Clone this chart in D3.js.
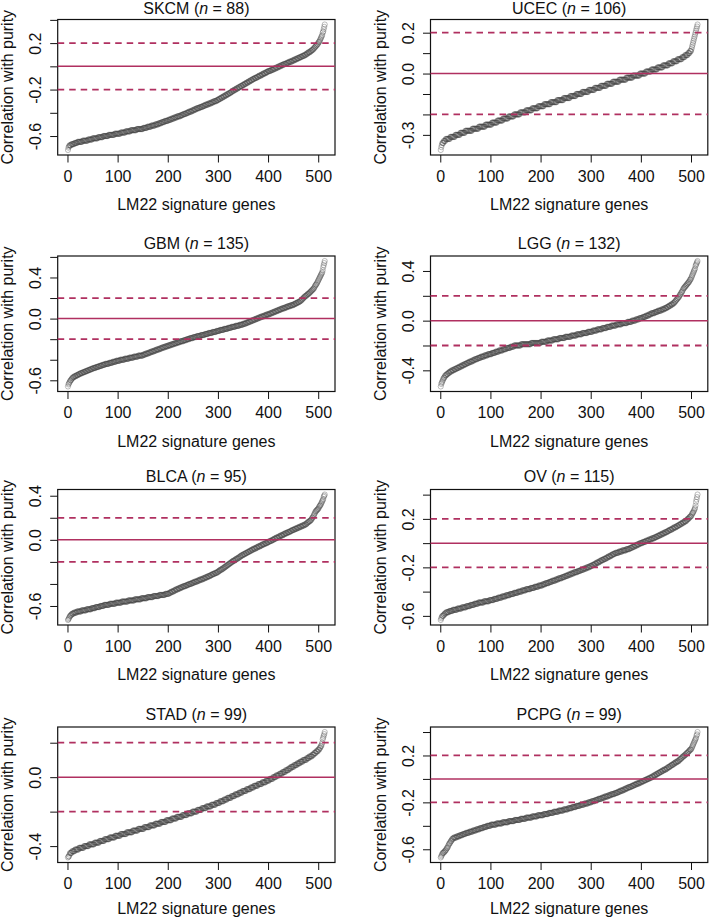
<!DOCTYPE html>
<html>
<head>
<meta charset="utf-8">
<script src="https://cdn.jsdelivr.net/npm/d3@7/dist/d3.min.js"></script>
<style>
html,body{margin:0;padding:0;background:#fff;}
svg{display:block;}
</style>
</head>
<body>
<svg id="chart" width="709" height="920"></svg>
<script>
const cancerTypes = ["SKCM","UCEC","GBM","LGG","BLCA","OV","STAD","PCPG"];
const sampleSizes = [88,106,135,132,95,115,99,99];
const xTickValues = [0,100,200,300,400,500];
const yTickValues = [
  [-0.6,-0.4,-0.2,0,0.2,0.4],
  [-0.3,-0.2,-0.1,0,0.1,0.2],
  [-0.6,-0.4,-0.2,0,0.2,0.4,0.6],
  [-0.4,-0.2,0,0.2,0.4],
  [-0.6,-0.4,-0.2,0,0.2,0.4],
  [-0.6,-0.4,-0.2,0,0.2,0.4],
  [-0.4,-0.2,0,0.2],
  [-0.6,-0.4,-0.2,0,0.2,0.4]
];
const yTickLabelValues = [
  [-0.6,-0.2,0.2],
  [-0.3,0,0.2],
  [-0.6,0,0.4],
  [-0.4,0,0.4],
  [-0.6,0,0.4],
  [-0.6,-0.2,0.2],
  [-0.4,0],
  [-0.6,-0.2,0.2]
];
const thresholdLines = [-0.2, 0.2];
const zeroLine = [0];

const skcmCorr = [
-0.72,-0.70,-0.69,-0.68,-0.68,-0.68,-0.68,-0.67,-0.67,-0.67,
-0.67,-0.67,-0.67,-0.66,-0.66,-0.66,-0.66,-0.66,-0.66,-0.65,
-0.65,-0.65,-0.65,-0.65,-0.65,-0.65,-0.65,-0.65,-0.65,-0.64,
-0.64,-0.64,-0.64,-0.64,-0.64,-0.64,-0.64,-0.64,-0.64,-0.64,
-0.63,-0.63,-0.63,-0.63,-0.63,-0.63,-0.63,-0.63,-0.63,-0.62,
-0.62,-0.62,-0.62,-0.62,-0.62,-0.62,-0.62,-0.62,-0.62,-0.62,
-0.61,-0.61,-0.61,-0.61,-0.61,-0.61,-0.61,-0.61,-0.61,-0.61,
-0.60,-0.60,-0.60,-0.60,-0.60,-0.60,-0.60,-0.60,-0.60,-0.60,
-0.60,-0.59,-0.59,-0.59,-0.59,-0.59,-0.59,-0.59,-0.59,-0.59,
-0.59,-0.59,-0.59,-0.58,-0.58,-0.58,-0.58,-0.58,-0.58,-0.58,
-0.58,-0.58,-0.58,-0.58,-0.58,-0.57,-0.57,-0.57,-0.57,-0.57,
-0.57,-0.57,-0.57,-0.57,-0.57,-0.56,-0.56,-0.56,-0.56,-0.56,
-0.56,-0.56,-0.56,-0.56,-0.56,-0.55,-0.55,-0.55,-0.55,-0.55,
-0.55,-0.55,-0.55,-0.55,-0.55,-0.55,-0.55,-0.54,-0.54,-0.54,
-0.54,-0.54,-0.54,-0.54,-0.54,-0.54,-0.54,-0.54,-0.54,-0.54,
-0.53,-0.53,-0.53,-0.53,-0.53,-0.53,-0.53,-0.53,-0.52,-0.52,
-0.52,-0.52,-0.52,-0.52,-0.52,-0.52,-0.51,-0.51,-0.51,-0.51,
-0.51,-0.51,-0.51,-0.51,-0.50,-0.50,-0.50,-0.50,-0.50,-0.50,
-0.50,-0.49,-0.49,-0.49,-0.49,-0.49,-0.49,-0.48,-0.48,-0.48,
-0.48,-0.48,-0.48,-0.47,-0.47,-0.47,-0.47,-0.47,-0.47,-0.47,
-0.46,-0.46,-0.46,-0.46,-0.46,-0.46,-0.45,-0.45,-0.45,-0.45,
-0.45,-0.45,-0.44,-0.44,-0.44,-0.44,-0.44,-0.44,-0.43,-0.43,
-0.43,-0.43,-0.43,-0.43,-0.43,-0.42,-0.42,-0.42,-0.42,-0.42,
-0.41,-0.41,-0.41,-0.41,-0.41,-0.41,-0.40,-0.40,-0.40,-0.40,
-0.40,-0.39,-0.39,-0.39,-0.39,-0.39,-0.39,-0.38,-0.38,-0.38,
-0.38,-0.38,-0.37,-0.37,-0.37,-0.37,-0.37,-0.36,-0.36,-0.36,
-0.36,-0.36,-0.36,-0.35,-0.35,-0.35,-0.35,-0.35,-0.35,-0.34,
-0.34,-0.34,-0.34,-0.34,-0.33,-0.33,-0.33,-0.33,-0.33,-0.33,
-0.32,-0.32,-0.32,-0.32,-0.32,-0.32,-0.31,-0.31,-0.31,-0.31,
-0.31,-0.30,-0.30,-0.30,-0.30,-0.30,-0.30,-0.29,-0.29,-0.29,
-0.29,-0.28,-0.28,-0.28,-0.28,-0.27,-0.27,-0.27,-0.27,-0.26,
-0.26,-0.26,-0.26,-0.25,-0.25,-0.25,-0.25,-0.24,-0.24,-0.24,
-0.24,-0.23,-0.23,-0.23,-0.23,-0.22,-0.22,-0.22,-0.21,-0.21,
-0.21,-0.21,-0.20,-0.20,-0.20,-0.20,-0.19,-0.19,-0.19,-0.19,
-0.18,-0.18,-0.18,-0.18,-0.17,-0.17,-0.17,-0.17,-0.16,-0.16,
-0.16,-0.16,-0.15,-0.15,-0.15,-0.15,-0.14,-0.14,-0.14,-0.14,
-0.13,-0.13,-0.13,-0.13,-0.12,-0.12,-0.12,-0.12,-0.11,-0.11,
-0.11,-0.11,-0.10,-0.10,-0.10,-0.10,-0.10,-0.09,-0.09,-0.09,
-0.09,-0.08,-0.08,-0.08,-0.08,-0.08,-0.07,-0.07,-0.07,-0.07,
-0.06,-0.06,-0.06,-0.06,-0.06,-0.05,-0.05,-0.05,-0.05,-0.04,
-0.04,-0.04,-0.04,-0.04,-0.04,-0.03,-0.03,-0.03,-0.03,-0.03,
-0.02,-0.02,-0.02,-0.02,-0.02,-0.01,-0.01,-0.01,-0.01,-0.01,
0.00,0.00,0.00,0.00,0.00,0.01,0.01,0.01,0.01,0.01,
0.02,0.02,0.02,0.02,0.02,0.02,0.03,0.03,0.03,0.03,
0.03,0.04,0.04,0.04,0.04,0.04,0.04,0.05,0.05,0.05,
0.05,0.05,0.06,0.06,0.06,0.06,0.06,0.07,0.07,0.07,
0.07,0.07,0.08,0.08,0.08,0.08,0.08,0.09,0.09,0.09,
0.09,0.09,0.10,0.10,0.10,0.10,0.11,0.11,0.11,0.12,
0.12,0.12,0.12,0.13,0.13,0.13,0.14,0.14,0.14,0.15,
0.15,0.16,0.16,0.17,0.17,0.18,0.18,0.19,0.19,0.20,
0.21,0.21,0.22,0.23,0.24,0.25,0.26,0.27,0.29,0.30,
0.32,0.34,0.36
];

const ucecCorr = [
-0.374,-0.36,-0.35,-0.34,-0.34,-0.34,-0.33,-0.33,-0.33,-0.33,
-0.32,-0.32,-0.32,-0.32,-0.32,-0.32,-0.32,-0.32,-0.32,-0.31,
-0.31,-0.31,-0.31,-0.31,-0.31,-0.31,-0.31,-0.31,-0.31,-0.30,
-0.30,-0.30,-0.30,-0.30,-0.30,-0.30,-0.30,-0.30,-0.30,-0.29,
-0.29,-0.29,-0.29,-0.29,-0.29,-0.29,-0.29,-0.29,-0.29,-0.28,
-0.28,-0.28,-0.28,-0.28,-0.28,-0.28,-0.28,-0.28,-0.28,-0.28,
-0.28,-0.28,-0.28,-0.27,-0.27,-0.27,-0.27,-0.27,-0.27,-0.27,
-0.27,-0.27,-0.27,-0.27,-0.27,-0.27,-0.26,-0.26,-0.26,-0.26,
-0.26,-0.26,-0.26,-0.26,-0.26,-0.26,-0.26,-0.26,-0.26,-0.25,
-0.25,-0.25,-0.25,-0.25,-0.25,-0.25,-0.25,-0.25,-0.25,-0.25,
-0.25,-0.25,-0.24,-0.24,-0.24,-0.24,-0.24,-0.24,-0.24,-0.24,
-0.24,-0.24,-0.24,-0.23,-0.23,-0.23,-0.23,-0.23,-0.23,-0.23,
-0.23,-0.23,-0.23,-0.23,-0.22,-0.22,-0.22,-0.22,-0.22,-0.22,
-0.22,-0.22,-0.22,-0.22,-0.22,-0.21,-0.21,-0.21,-0.21,-0.21,
-0.21,-0.21,-0.21,-0.21,-0.21,-0.21,-0.20,-0.20,-0.20,-0.20,
-0.20,-0.20,-0.20,-0.20,-0.20,-0.20,-0.20,-0.20,-0.19,-0.19,
-0.19,-0.19,-0.19,-0.19,-0.19,-0.19,-0.19,-0.19,-0.19,-0.19,
-0.18,-0.18,-0.18,-0.18,-0.18,-0.18,-0.18,-0.18,-0.18,-0.18,
-0.18,-0.18,-0.17,-0.17,-0.17,-0.17,-0.17,-0.17,-0.17,-0.17,
-0.17,-0.17,-0.17,-0.17,-0.16,-0.16,-0.16,-0.16,-0.16,-0.16,
-0.16,-0.16,-0.16,-0.16,-0.16,-0.16,-0.15,-0.15,-0.15,-0.15,
-0.15,-0.15,-0.15,-0.15,-0.15,-0.15,-0.15,-0.15,-0.15,-0.14,
-0.14,-0.14,-0.14,-0.14,-0.14,-0.14,-0.14,-0.14,-0.14,-0.14,
-0.14,-0.14,-0.13,-0.13,-0.13,-0.13,-0.13,-0.13,-0.13,-0.13,
-0.13,-0.13,-0.13,-0.13,-0.13,-0.12,-0.12,-0.12,-0.12,-0.12,
-0.12,-0.12,-0.12,-0.12,-0.12,-0.12,-0.12,-0.12,-0.11,-0.11,
-0.11,-0.11,-0.11,-0.11,-0.11,-0.11,-0.11,-0.11,-0.11,-0.11,
-0.10,-0.10,-0.10,-0.10,-0.10,-0.10,-0.10,-0.10,-0.10,-0.10,
-0.10,-0.10,-0.09,-0.09,-0.09,-0.09,-0.09,-0.09,-0.09,-0.09,
-0.09,-0.09,-0.09,-0.09,-0.09,-0.08,-0.08,-0.08,-0.08,-0.08,
-0.08,-0.08,-0.08,-0.08,-0.08,-0.08,-0.08,-0.07,-0.07,-0.07,
-0.07,-0.07,-0.07,-0.07,-0.07,-0.07,-0.07,-0.07,-0.07,-0.06,
-0.06,-0.06,-0.06,-0.06,-0.06,-0.06,-0.06,-0.06,-0.06,-0.06,
-0.06,-0.05,-0.05,-0.05,-0.05,-0.05,-0.05,-0.05,-0.05,-0.05,
-0.05,-0.05,-0.05,-0.04,-0.04,-0.04,-0.04,-0.04,-0.04,-0.04,
-0.04,-0.04,-0.04,-0.04,-0.04,-0.04,-0.03,-0.03,-0.03,-0.03,
-0.03,-0.03,-0.03,-0.03,-0.03,-0.03,-0.03,-0.03,-0.03,-0.03,
-0.02,-0.02,-0.02,-0.02,-0.02,-0.02,-0.02,-0.02,-0.02,-0.02,
-0.02,-0.02,-0.02,-0.01,-0.01,-0.01,-0.01,-0.01,-0.01,-0.01,
-0.01,-0.01,-0.01,-0.01,-0.01,-0.01,-0.01,0.00,0.00,0.00,
0.00,0.00,0.00,0.00,0.00,0.00,0.00,0.00,0.00,0.01,
0.01,0.01,0.01,0.01,0.01,0.01,0.01,0.01,0.01,0.01,
0.02,0.02,0.02,0.02,0.02,0.02,0.02,0.02,0.02,0.02,
0.02,0.02,0.03,0.03,0.03,0.03,0.03,0.03,0.03,0.03,
0.03,0.03,0.03,0.04,0.04,0.04,0.04,0.04,0.04,0.04,
0.04,0.04,0.04,0.04,0.05,0.05,0.05,0.05,0.05,0.05,
0.05,0.05,0.05,0.06,0.06,0.06,0.06,0.06,0.06,0.06,
0.06,0.06,0.07,0.07,0.07,0.07,0.07,0.07,0.07,0.07,
0.07,0.08,0.08,0.08,0.08,0.08,0.08,0.09,0.09,0.09,
0.09,0.09,0.09,0.10,0.10,0.10,0.10,0.11,0.11,0.11,
0.12,0.13,0.14,0.15,0.16,0.17,0.18,0.19,0.20,0.21,
0.22,0.23,0.24
];

const gbmCorr = [
-0.66,-0.64,-0.63,-0.62,-0.61,-0.60,-0.60,-0.59,-0.58,-0.58,
-0.57,-0.57,-0.57,-0.56,-0.56,-0.56,-0.56,-0.55,-0.55,-0.55,
-0.55,-0.54,-0.54,-0.54,-0.54,-0.53,-0.53,-0.53,-0.53,-0.53,
-0.52,-0.52,-0.52,-0.52,-0.52,-0.51,-0.51,-0.51,-0.51,-0.51,
-0.50,-0.50,-0.50,-0.50,-0.50,-0.49,-0.49,-0.49,-0.49,-0.49,
-0.48,-0.48,-0.48,-0.48,-0.48,-0.48,-0.47,-0.47,-0.47,-0.47,
-0.47,-0.47,-0.46,-0.46,-0.46,-0.46,-0.46,-0.46,-0.45,-0.45,
-0.45,-0.45,-0.45,-0.45,-0.44,-0.44,-0.44,-0.44,-0.44,-0.44,
-0.44,-0.44,-0.43,-0.43,-0.43,-0.43,-0.43,-0.43,-0.43,-0.42,
-0.42,-0.42,-0.42,-0.42,-0.42,-0.42,-0.41,-0.41,-0.41,-0.41,
-0.41,-0.41,-0.41,-0.41,-0.40,-0.40,-0.40,-0.40,-0.40,-0.40,
-0.40,-0.40,-0.40,-0.39,-0.39,-0.39,-0.39,-0.39,-0.39,-0.39,
-0.39,-0.39,-0.38,-0.38,-0.38,-0.38,-0.38,-0.38,-0.38,-0.38,
-0.38,-0.37,-0.37,-0.37,-0.37,-0.37,-0.37,-0.37,-0.37,-0.37,
-0.36,-0.36,-0.36,-0.36,-0.36,-0.36,-0.36,-0.36,-0.36,-0.36,
-0.35,-0.35,-0.35,-0.35,-0.35,-0.34,-0.34,-0.34,-0.34,-0.34,
-0.34,-0.33,-0.33,-0.33,-0.33,-0.33,-0.32,-0.32,-0.32,-0.32,
-0.32,-0.32,-0.31,-0.31,-0.31,-0.31,-0.31,-0.30,-0.30,-0.30,
-0.30,-0.30,-0.30,-0.29,-0.29,-0.29,-0.29,-0.29,-0.28,-0.28,
-0.28,-0.28,-0.28,-0.28,-0.27,-0.27,-0.27,-0.27,-0.27,-0.27,
-0.26,-0.26,-0.26,-0.26,-0.26,-0.26,-0.25,-0.25,-0.25,-0.25,
-0.25,-0.25,-0.24,-0.24,-0.24,-0.24,-0.24,-0.24,-0.23,-0.23,
-0.23,-0.23,-0.23,-0.23,-0.22,-0.22,-0.22,-0.22,-0.22,-0.22,
-0.22,-0.21,-0.21,-0.21,-0.21,-0.21,-0.21,-0.20,-0.20,-0.20,
-0.20,-0.20,-0.20,-0.19,-0.19,-0.19,-0.19,-0.19,-0.19,-0.19,
-0.18,-0.18,-0.18,-0.18,-0.18,-0.18,-0.18,-0.17,-0.17,-0.17,
-0.17,-0.17,-0.17,-0.17,-0.17,-0.16,-0.16,-0.16,-0.16,-0.16,
-0.16,-0.16,-0.16,-0.15,-0.15,-0.15,-0.15,-0.15,-0.15,-0.15,
-0.14,-0.14,-0.14,-0.14,-0.14,-0.14,-0.14,-0.14,-0.13,-0.13,
-0.13,-0.13,-0.13,-0.13,-0.13,-0.13,-0.12,-0.12,-0.12,-0.12,
-0.12,-0.12,-0.12,-0.11,-0.11,-0.11,-0.11,-0.11,-0.11,-0.11,
-0.11,-0.10,-0.10,-0.10,-0.10,-0.10,-0.10,-0.10,-0.10,-0.09,
-0.09,-0.09,-0.09,-0.09,-0.09,-0.09,-0.08,-0.08,-0.08,-0.08,
-0.08,-0.08,-0.08,-0.08,-0.07,-0.07,-0.07,-0.07,-0.07,-0.07,
-0.07,-0.07,-0.06,-0.06,-0.06,-0.06,-0.06,-0.06,-0.06,-0.05,
-0.05,-0.05,-0.05,-0.05,-0.05,-0.04,-0.04,-0.04,-0.04,-0.04,
-0.03,-0.03,-0.03,-0.03,-0.03,-0.02,-0.02,-0.02,-0.02,-0.02,
-0.01,-0.01,-0.01,-0.01,-0.01,0.00,0.00,0.00,0.00,0.00,
0.01,0.01,0.01,0.01,0.01,0.02,0.02,0.02,0.02,0.02,
0.02,0.03,0.03,0.03,0.03,0.03,0.04,0.04,0.04,0.04,
0.04,0.04,0.05,0.05,0.05,0.05,0.05,0.06,0.06,0.06,
0.06,0.06,0.07,0.07,0.07,0.07,0.07,0.08,0.08,0.08,
0.08,0.08,0.09,0.09,0.09,0.09,0.09,0.10,0.10,0.10,
0.10,0.10,0.10,0.11,0.11,0.11,0.11,0.11,0.12,0.12,
0.12,0.12,0.12,0.12,0.13,0.13,0.13,0.13,0.13,0.13,
0.14,0.14,0.14,0.14,0.15,0.15,0.15,0.15,0.16,0.16,
0.16,0.16,0.17,0.17,0.17,0.18,0.18,0.19,0.19,0.20,
0.20,0.21,0.21,0.22,0.22,0.22,0.23,0.23,0.24,0.24,
0.24,0.25,0.25,0.26,0.26,0.27,0.27,0.28,0.28,0.29,
0.29,0.30,0.31,0.32,0.33,0.33,0.34,0.35,0.36,0.37,
0.38,0.39,0.40,0.41,0.42,0.43,0.44,0.45,0.47,0.50,
0.52,0.54,0.56
];

const lggCorr = [
-0.53,-0.51,-0.50,-0.49,-0.48,-0.47,-0.46,-0.46,-0.45,-0.44,
-0.44,-0.44,-0.43,-0.43,-0.43,-0.42,-0.42,-0.42,-0.41,-0.41,
-0.41,-0.41,-0.40,-0.40,-0.40,-0.40,-0.40,-0.39,-0.39,-0.39,
-0.39,-0.39,-0.38,-0.38,-0.38,-0.38,-0.38,-0.37,-0.37,-0.37,
-0.37,-0.37,-0.36,-0.36,-0.36,-0.36,-0.36,-0.35,-0.35,-0.35,
-0.35,-0.35,-0.34,-0.34,-0.34,-0.34,-0.34,-0.33,-0.33,-0.33,
-0.33,-0.33,-0.33,-0.32,-0.32,-0.32,-0.32,-0.32,-0.31,-0.31,
-0.31,-0.31,-0.31,-0.31,-0.30,-0.30,-0.30,-0.30,-0.30,-0.30,
-0.29,-0.29,-0.29,-0.29,-0.29,-0.29,-0.29,-0.28,-0.28,-0.28,
-0.28,-0.28,-0.28,-0.28,-0.27,-0.27,-0.27,-0.27,-0.27,-0.27,
-0.27,-0.27,-0.26,-0.26,-0.26,-0.26,-0.26,-0.26,-0.26,-0.25,
-0.25,-0.25,-0.25,-0.25,-0.25,-0.25,-0.24,-0.24,-0.24,-0.24,
-0.24,-0.24,-0.24,-0.24,-0.23,-0.23,-0.23,-0.23,-0.23,-0.23,
-0.23,-0.22,-0.22,-0.22,-0.22,-0.22,-0.22,-0.22,-0.22,-0.21,
-0.21,-0.21,-0.21,-0.21,-0.21,-0.21,-0.20,-0.20,-0.20,-0.20,
-0.20,-0.20,-0.20,-0.20,-0.20,-0.20,-0.20,-0.20,-0.20,-0.20,
-0.19,-0.19,-0.19,-0.19,-0.19,-0.19,-0.19,-0.19,-0.19,-0.19,
-0.19,-0.19,-0.19,-0.19,-0.19,-0.19,-0.19,-0.19,-0.19,-0.19,
-0.18,-0.18,-0.18,-0.18,-0.18,-0.18,-0.18,-0.18,-0.18,-0.18,
-0.18,-0.18,-0.18,-0.18,-0.18,-0.18,-0.18,-0.18,-0.18,-0.18,
-0.17,-0.17,-0.17,-0.17,-0.17,-0.17,-0.17,-0.17,-0.17,-0.17,
-0.17,-0.17,-0.16,-0.16,-0.16,-0.16,-0.16,-0.16,-0.16,-0.16,
-0.16,-0.16,-0.16,-0.16,-0.15,-0.15,-0.15,-0.15,-0.15,-0.15,
-0.15,-0.15,-0.15,-0.15,-0.15,-0.15,-0.14,-0.14,-0.14,-0.14,
-0.14,-0.14,-0.14,-0.14,-0.14,-0.14,-0.14,-0.14,-0.13,-0.13,
-0.13,-0.13,-0.13,-0.13,-0.13,-0.13,-0.13,-0.13,-0.13,-0.13,
-0.12,-0.12,-0.12,-0.12,-0.12,-0.12,-0.12,-0.12,-0.12,-0.12,
-0.12,-0.11,-0.11,-0.11,-0.11,-0.11,-0.11,-0.11,-0.11,-0.11,
-0.11,-0.11,-0.10,-0.10,-0.10,-0.10,-0.10,-0.10,-0.10,-0.10,
-0.10,-0.10,-0.10,-0.09,-0.09,-0.09,-0.09,-0.09,-0.09,-0.09,
-0.09,-0.09,-0.09,-0.08,-0.08,-0.08,-0.08,-0.08,-0.08,-0.08,
-0.08,-0.08,-0.07,-0.07,-0.07,-0.07,-0.07,-0.07,-0.07,-0.07,
-0.07,-0.07,-0.06,-0.06,-0.06,-0.06,-0.06,-0.06,-0.06,-0.06,
-0.06,-0.05,-0.05,-0.05,-0.05,-0.05,-0.05,-0.05,-0.05,-0.05,
-0.04,-0.04,-0.04,-0.04,-0.04,-0.04,-0.04,-0.04,-0.04,-0.04,
-0.03,-0.03,-0.03,-0.03,-0.03,-0.03,-0.03,-0.03,-0.03,-0.03,
-0.03,-0.02,-0.02,-0.02,-0.02,-0.02,-0.02,-0.02,-0.02,-0.02,
-0.02,-0.02,-0.01,-0.01,-0.01,-0.01,-0.01,-0.01,-0.01,-0.01,
-0.01,0.00,0.00,0.00,0.00,0.00,0.00,0.00,0.00,0.01,
0.01,0.01,0.01,0.01,0.01,0.01,0.02,0.02,0.02,0.02,
0.02,0.02,0.02,0.03,0.03,0.03,0.03,0.03,0.03,0.04,
0.04,0.04,0.04,0.04,0.04,0.05,0.05,0.05,0.05,0.05,
0.06,0.06,0.06,0.06,0.06,0.06,0.06,0.07,0.07,0.07,
0.07,0.07,0.07,0.08,0.08,0.08,0.08,0.08,0.08,0.08,
0.09,0.09,0.09,0.09,0.09,0.09,0.10,0.10,0.10,0.10,
0.10,0.11,0.11,0.11,0.11,0.12,0.12,0.12,0.12,0.13,
0.13,0.13,0.13,0.14,0.14,0.14,0.15,0.15,0.16,0.16,
0.17,0.17,0.18,0.18,0.19,0.19,0.20,0.21,0.21,0.22,
0.23,0.23,0.24,0.25,0.26,0.26,0.27,0.27,0.28,0.28,
0.29,0.29,0.30,0.30,0.31,0.31,0.32,0.33,0.33,0.34,
0.35,0.36,0.37,0.38,0.39,0.40,0.41,0.42,0.44,0.45,
0.46,0.47,0.48
];

const blcaCorr = [
-0.727,-0.72,-0.71,-0.70,-0.69,-0.69,-0.68,-0.68,-0.67,-0.67,
-0.67,-0.67,-0.66,-0.66,-0.66,-0.66,-0.66,-0.66,-0.65,-0.65,
-0.65,-0.65,-0.65,-0.65,-0.65,-0.65,-0.65,-0.64,-0.64,-0.64,
-0.64,-0.64,-0.64,-0.64,-0.64,-0.64,-0.64,-0.63,-0.63,-0.63,
-0.63,-0.63,-0.63,-0.63,-0.63,-0.63,-0.63,-0.62,-0.62,-0.62,
-0.62,-0.62,-0.62,-0.62,-0.62,-0.61,-0.61,-0.61,-0.61,-0.61,
-0.61,-0.61,-0.61,-0.61,-0.60,-0.60,-0.60,-0.60,-0.60,-0.60,
-0.60,-0.60,-0.59,-0.59,-0.59,-0.59,-0.59,-0.59,-0.59,-0.59,
-0.59,-0.59,-0.59,-0.58,-0.58,-0.58,-0.58,-0.58,-0.58,-0.58,
-0.58,-0.58,-0.58,-0.58,-0.58,-0.57,-0.57,-0.57,-0.57,-0.57,
-0.57,-0.57,-0.57,-0.57,-0.57,-0.57,-0.57,-0.56,-0.56,-0.56,
-0.56,-0.56,-0.56,-0.56,-0.56,-0.56,-0.56,-0.56,-0.56,-0.56,
-0.55,-0.55,-0.55,-0.55,-0.55,-0.55,-0.55,-0.55,-0.55,-0.55,
-0.55,-0.55,-0.55,-0.54,-0.54,-0.54,-0.54,-0.54,-0.54,-0.54,
-0.54,-0.54,-0.54,-0.54,-0.54,-0.54,-0.53,-0.53,-0.53,-0.53,
-0.53,-0.53,-0.53,-0.53,-0.53,-0.53,-0.53,-0.53,-0.52,-0.52,
-0.52,-0.52,-0.52,-0.52,-0.52,-0.52,-0.52,-0.52,-0.52,-0.52,
-0.51,-0.51,-0.51,-0.51,-0.51,-0.51,-0.51,-0.51,-0.51,-0.51,
-0.51,-0.51,-0.50,-0.50,-0.50,-0.50,-0.50,-0.50,-0.50,-0.50,
-0.50,-0.50,-0.50,-0.50,-0.49,-0.49,-0.49,-0.49,-0.49,-0.49,
-0.49,-0.49,-0.48,-0.48,-0.48,-0.48,-0.47,-0.47,-0.47,-0.47,
-0.47,-0.46,-0.46,-0.46,-0.46,-0.45,-0.45,-0.45,-0.45,-0.45,
-0.44,-0.44,-0.44,-0.44,-0.44,-0.43,-0.43,-0.43,-0.43,-0.43,
-0.42,-0.42,-0.42,-0.42,-0.42,-0.42,-0.41,-0.41,-0.41,-0.41,
-0.41,-0.40,-0.40,-0.40,-0.40,-0.40,-0.40,-0.39,-0.39,-0.39,
-0.39,-0.39,-0.38,-0.38,-0.38,-0.38,-0.38,-0.38,-0.37,-0.37,
-0.37,-0.37,-0.37,-0.36,-0.36,-0.36,-0.36,-0.36,-0.36,-0.35,
-0.35,-0.35,-0.35,-0.35,-0.34,-0.34,-0.34,-0.34,-0.34,-0.33,
-0.33,-0.33,-0.33,-0.33,-0.32,-0.32,-0.32,-0.32,-0.31,-0.31,
-0.31,-0.31,-0.31,-0.30,-0.30,-0.30,-0.30,-0.30,-0.29,-0.29,
-0.29,-0.28,-0.28,-0.28,-0.27,-0.27,-0.27,-0.27,-0.26,-0.26,
-0.26,-0.25,-0.25,-0.25,-0.24,-0.24,-0.24,-0.23,-0.23,-0.23,
-0.22,-0.22,-0.22,-0.21,-0.21,-0.21,-0.20,-0.20,-0.20,-0.19,
-0.19,-0.19,-0.19,-0.18,-0.18,-0.18,-0.17,-0.17,-0.17,-0.17,
-0.16,-0.16,-0.16,-0.15,-0.15,-0.15,-0.14,-0.14,-0.14,-0.14,
-0.13,-0.13,-0.13,-0.13,-0.12,-0.12,-0.12,-0.12,-0.11,-0.11,
-0.11,-0.11,-0.10,-0.10,-0.10,-0.10,-0.09,-0.09,-0.09,-0.09,
-0.08,-0.08,-0.08,-0.08,-0.08,-0.07,-0.07,-0.07,-0.07,-0.06,
-0.06,-0.06,-0.06,-0.06,-0.05,-0.05,-0.05,-0.05,-0.04,-0.04,
-0.04,-0.04,-0.04,-0.03,-0.03,-0.03,-0.03,-0.03,-0.02,-0.02,
-0.02,-0.02,-0.01,-0.01,-0.01,-0.01,-0.01,0.00,0.00,0.00,
0.00,0.01,0.01,0.01,0.01,0.02,0.02,0.02,0.02,0.02,
0.03,0.03,0.03,0.03,0.04,0.04,0.04,0.04,0.04,0.05,
0.05,0.05,0.05,0.06,0.06,0.06,0.06,0.06,0.07,0.07,
0.07,0.07,0.07,0.08,0.08,0.08,0.08,0.09,0.09,0.09,
0.09,0.09,0.10,0.10,0.10,0.10,0.10,0.11,0.11,0.11,
0.11,0.11,0.12,0.12,0.12,0.12,0.12,0.13,0.13,0.13,
0.13,0.13,0.14,0.14,0.14,0.14,0.15,0.15,0.16,0.16,
0.16,0.17,0.17,0.17,0.18,0.18,0.19,0.20,0.20,0.21,
0.22,0.23,0.24,0.25,0.26,0.26,0.27,0.27,0.28,0.28,
0.29,0.30,0.31,0.31,0.32,0.33,0.34,0.35,0.36,0.37,
0.39,0.40,0.411
];

const ovCorr = [
-0.634,-0.62,-0.61,-0.60,-0.60,-0.60,-0.59,-0.59,-0.58,-0.58,
-0.58,-0.57,-0.57,-0.57,-0.57,-0.57,-0.57,-0.56,-0.56,-0.56,
-0.56,-0.56,-0.56,-0.56,-0.55,-0.55,-0.55,-0.55,-0.55,-0.55,
-0.55,-0.55,-0.55,-0.54,-0.54,-0.54,-0.54,-0.54,-0.54,-0.54,
-0.54,-0.54,-0.53,-0.53,-0.53,-0.53,-0.53,-0.53,-0.53,-0.53,
-0.53,-0.52,-0.52,-0.52,-0.52,-0.52,-0.52,-0.52,-0.52,-0.51,
-0.51,-0.51,-0.51,-0.51,-0.51,-0.51,-0.51,-0.50,-0.50,-0.50,
-0.50,-0.50,-0.50,-0.50,-0.50,-0.49,-0.49,-0.49,-0.49,-0.49,
-0.49,-0.49,-0.49,-0.49,-0.49,-0.49,-0.48,-0.48,-0.48,-0.48,
-0.48,-0.48,-0.48,-0.48,-0.48,-0.48,-0.48,-0.47,-0.47,-0.47,
-0.47,-0.47,-0.47,-0.47,-0.47,-0.47,-0.46,-0.46,-0.46,-0.46,
-0.46,-0.46,-0.46,-0.46,-0.45,-0.45,-0.45,-0.45,-0.45,-0.45,
-0.45,-0.45,-0.44,-0.44,-0.44,-0.44,-0.44,-0.44,-0.44,-0.44,
-0.43,-0.43,-0.43,-0.43,-0.43,-0.43,-0.43,-0.43,-0.42,-0.42,
-0.42,-0.42,-0.42,-0.42,-0.42,-0.42,-0.41,-0.41,-0.41,-0.41,
-0.41,-0.41,-0.41,-0.41,-0.40,-0.40,-0.40,-0.40,-0.40,-0.40,
-0.40,-0.40,-0.39,-0.39,-0.39,-0.39,-0.39,-0.39,-0.39,-0.39,
-0.38,-0.38,-0.38,-0.38,-0.38,-0.38,-0.38,-0.38,-0.38,-0.37,
-0.37,-0.37,-0.37,-0.37,-0.37,-0.37,-0.37,-0.36,-0.36,-0.36,
-0.36,-0.36,-0.36,-0.36,-0.36,-0.35,-0.35,-0.35,-0.35,-0.35,
-0.35,-0.35,-0.35,-0.34,-0.34,-0.34,-0.34,-0.34,-0.34,-0.33,
-0.33,-0.33,-0.33,-0.33,-0.33,-0.33,-0.32,-0.32,-0.32,-0.32,
-0.32,-0.32,-0.31,-0.31,-0.31,-0.31,-0.31,-0.31,-0.31,-0.30,
-0.30,-0.30,-0.30,-0.30,-0.30,-0.29,-0.29,-0.29,-0.29,-0.29,
-0.29,-0.29,-0.28,-0.28,-0.28,-0.28,-0.28,-0.28,-0.27,-0.27,
-0.27,-0.27,-0.27,-0.27,-0.26,-0.26,-0.26,-0.26,-0.26,-0.26,
-0.25,-0.25,-0.25,-0.25,-0.25,-0.25,-0.24,-0.24,-0.24,-0.24,
-0.24,-0.24,-0.24,-0.23,-0.23,-0.23,-0.23,-0.23,-0.23,-0.22,
-0.22,-0.22,-0.22,-0.22,-0.22,-0.21,-0.21,-0.21,-0.21,-0.21,
-0.21,-0.20,-0.20,-0.20,-0.20,-0.20,-0.20,-0.19,-0.19,-0.19,
-0.19,-0.19,-0.18,-0.18,-0.18,-0.18,-0.18,-0.17,-0.17,-0.17,
-0.17,-0.16,-0.16,-0.16,-0.16,-0.16,-0.15,-0.15,-0.15,-0.15,
-0.14,-0.14,-0.14,-0.14,-0.14,-0.13,-0.13,-0.13,-0.13,-0.13,
-0.12,-0.12,-0.12,-0.12,-0.11,-0.11,-0.11,-0.11,-0.11,-0.10,
-0.10,-0.10,-0.10,-0.09,-0.09,-0.09,-0.09,-0.09,-0.08,-0.08,
-0.08,-0.08,-0.08,-0.08,-0.08,-0.07,-0.07,-0.07,-0.07,-0.07,
-0.07,-0.07,-0.06,-0.06,-0.06,-0.06,-0.06,-0.06,-0.06,-0.06,
-0.05,-0.05,-0.05,-0.05,-0.05,-0.05,-0.05,-0.04,-0.04,-0.04,
-0.04,-0.04,-0.03,-0.03,-0.03,-0.03,-0.03,-0.02,-0.02,-0.02,
-0.02,-0.02,-0.01,-0.01,-0.01,-0.01,-0.01,0.00,0.00,0.00,
0.00,0.00,0.00,0.01,0.01,0.01,0.01,0.01,0.01,0.02,
0.02,0.02,0.02,0.02,0.02,0.03,0.03,0.03,0.03,0.03,
0.03,0.04,0.04,0.04,0.04,0.04,0.04,0.05,0.05,0.05,
0.05,0.05,0.06,0.06,0.06,0.06,0.06,0.07,0.07,0.07,
0.07,0.07,0.08,0.08,0.08,0.08,0.08,0.09,0.09,0.09,
0.09,0.09,0.10,0.10,0.10,0.10,0.11,0.11,0.11,0.11,
0.11,0.12,0.12,0.12,0.12,0.13,0.13,0.13,0.13,0.13,
0.14,0.14,0.14,0.14,0.15,0.15,0.15,0.15,0.16,0.16,
0.16,0.16,0.17,0.17,0.17,0.17,0.18,0.18,0.18,0.18,
0.19,0.19,0.20,0.20,0.20,0.21,0.21,0.22,0.22,0.22,
0.23,0.24,0.25,0.25,0.26,0.27,0.28,0.29,0.31,0.34,
0.36,0.38,0.401
];

const stadCorr = [
-0.466,-0.46,-0.46,-0.45,-0.44,-0.44,-0.44,-0.44,-0.43,-0.43,
-0.43,-0.43,-0.43,-0.43,-0.42,-0.42,-0.42,-0.42,-0.42,-0.42,
-0.42,-0.42,-0.41,-0.41,-0.41,-0.41,-0.41,-0.41,-0.41,-0.41,
-0.41,-0.41,-0.40,-0.40,-0.40,-0.40,-0.40,-0.40,-0.40,-0.40,
-0.40,-0.40,-0.39,-0.39,-0.39,-0.39,-0.39,-0.39,-0.39,-0.39,
-0.39,-0.39,-0.39,-0.38,-0.38,-0.38,-0.38,-0.38,-0.38,-0.38,
-0.38,-0.38,-0.38,-0.37,-0.37,-0.37,-0.37,-0.37,-0.37,-0.37,
-0.37,-0.37,-0.37,-0.36,-0.36,-0.36,-0.36,-0.36,-0.36,-0.36,
-0.36,-0.36,-0.36,-0.35,-0.35,-0.35,-0.35,-0.35,-0.35,-0.35,
-0.35,-0.35,-0.35,-0.35,-0.34,-0.34,-0.34,-0.34,-0.34,-0.34,
-0.34,-0.34,-0.34,-0.34,-0.34,-0.33,-0.33,-0.33,-0.33,-0.33,
-0.33,-0.33,-0.33,-0.33,-0.33,-0.33,-0.33,-0.32,-0.32,-0.32,
-0.32,-0.32,-0.32,-0.32,-0.32,-0.32,-0.32,-0.32,-0.32,-0.31,
-0.31,-0.31,-0.31,-0.31,-0.31,-0.31,-0.31,-0.31,-0.31,-0.31,
-0.30,-0.30,-0.30,-0.30,-0.30,-0.30,-0.30,-0.30,-0.30,-0.30,
-0.30,-0.30,-0.29,-0.29,-0.29,-0.29,-0.29,-0.29,-0.29,-0.29,
-0.29,-0.29,-0.29,-0.28,-0.28,-0.28,-0.28,-0.28,-0.28,-0.28,
-0.28,-0.28,-0.28,-0.28,-0.27,-0.27,-0.27,-0.27,-0.27,-0.27,
-0.27,-0.27,-0.27,-0.27,-0.27,-0.26,-0.26,-0.26,-0.26,-0.26,
-0.26,-0.26,-0.26,-0.26,-0.26,-0.26,-0.25,-0.25,-0.25,-0.25,
-0.25,-0.25,-0.25,-0.25,-0.25,-0.25,-0.25,-0.24,-0.24,-0.24,
-0.24,-0.24,-0.24,-0.24,-0.24,-0.24,-0.24,-0.23,-0.23,-0.23,
-0.23,-0.23,-0.23,-0.23,-0.23,-0.23,-0.23,-0.23,-0.22,-0.22,
-0.22,-0.22,-0.22,-0.22,-0.22,-0.22,-0.22,-0.22,-0.21,-0.21,
-0.21,-0.21,-0.21,-0.21,-0.21,-0.21,-0.21,-0.21,-0.20,-0.20,
-0.20,-0.20,-0.20,-0.20,-0.20,-0.20,-0.20,-0.20,-0.19,-0.19,
-0.19,-0.19,-0.19,-0.19,-0.19,-0.19,-0.19,-0.18,-0.18,-0.18,
-0.18,-0.18,-0.18,-0.18,-0.18,-0.18,-0.17,-0.17,-0.17,-0.17,
-0.17,-0.17,-0.17,-0.17,-0.17,-0.17,-0.16,-0.16,-0.16,-0.16,
-0.16,-0.16,-0.16,-0.16,-0.16,-0.15,-0.15,-0.15,-0.15,-0.15,
-0.15,-0.15,-0.15,-0.14,-0.14,-0.14,-0.14,-0.14,-0.14,-0.14,
-0.14,-0.13,-0.13,-0.13,-0.13,-0.13,-0.13,-0.13,-0.12,-0.12,
-0.12,-0.12,-0.12,-0.12,-0.12,-0.12,-0.11,-0.11,-0.11,-0.11,
-0.11,-0.11,-0.11,-0.10,-0.10,-0.10,-0.10,-0.10,-0.10,-0.10,
-0.10,-0.09,-0.09,-0.09,-0.09,-0.09,-0.09,-0.09,-0.08,-0.08,
-0.08,-0.08,-0.08,-0.08,-0.08,-0.08,-0.07,-0.07,-0.07,-0.07,
-0.07,-0.07,-0.07,-0.07,-0.06,-0.06,-0.06,-0.06,-0.06,-0.06,
-0.06,-0.05,-0.05,-0.05,-0.05,-0.05,-0.05,-0.05,-0.05,-0.04,
-0.04,-0.04,-0.04,-0.04,-0.04,-0.04,-0.04,-0.03,-0.03,-0.03,
-0.03,-0.03,-0.03,-0.03,-0.03,-0.02,-0.02,-0.02,-0.02,-0.02,
-0.02,-0.02,-0.01,-0.01,-0.01,-0.01,-0.01,-0.01,-0.01,0.00,
0.00,0.00,0.00,0.00,0.00,0.01,0.01,0.01,0.01,0.01,
0.01,0.01,0.02,0.02,0.02,0.02,0.02,0.02,0.03,0.03,
0.03,0.03,0.03,0.03,0.04,0.04,0.04,0.04,0.04,0.04,
0.05,0.05,0.05,0.05,0.05,0.06,0.06,0.06,0.06,0.06,
0.06,0.07,0.07,0.07,0.07,0.07,0.07,0.08,0.08,0.08,
0.08,0.08,0.08,0.09,0.09,0.09,0.09,0.09,0.09,0.10,
0.10,0.10,0.10,0.10,0.10,0.10,0.11,0.11,0.11,0.11,
0.11,0.12,0.12,0.12,0.12,0.12,0.12,0.13,0.13,0.13,
0.13,0.14,0.14,0.14,0.14,0.15,0.15,0.15,0.15,0.16,
0.16,0.16,0.17,0.17,0.18,0.18,0.19,0.20,0.22,0.23,
0.24,0.25,0.262
];

const pcpgCorr = [
-0.67,-0.66,-0.65,-0.64,-0.63,-0.63,-0.63,-0.62,-0.62,-0.61,
-0.61,-0.60,-0.59,-0.59,-0.58,-0.57,-0.56,-0.55,-0.55,-0.54,
-0.53,-0.53,-0.52,-0.51,-0.51,-0.51,-0.50,-0.50,-0.50,-0.50,
-0.50,-0.50,-0.49,-0.49,-0.49,-0.49,-0.49,-0.49,-0.48,-0.48,
-0.48,-0.48,-0.48,-0.48,-0.47,-0.47,-0.47,-0.47,-0.47,-0.47,
-0.46,-0.46,-0.46,-0.46,-0.46,-0.46,-0.46,-0.45,-0.45,-0.45,
-0.45,-0.45,-0.45,-0.45,-0.44,-0.44,-0.44,-0.44,-0.44,-0.44,
-0.44,-0.43,-0.43,-0.43,-0.43,-0.43,-0.43,-0.43,-0.42,-0.42,
-0.42,-0.42,-0.42,-0.42,-0.42,-0.41,-0.41,-0.41,-0.41,-0.41,
-0.41,-0.41,-0.40,-0.40,-0.40,-0.40,-0.40,-0.40,-0.40,-0.40,
-0.39,-0.39,-0.39,-0.39,-0.39,-0.39,-0.39,-0.39,-0.39,-0.39,
-0.39,-0.38,-0.38,-0.38,-0.38,-0.38,-0.38,-0.38,-0.38,-0.38,
-0.38,-0.38,-0.38,-0.37,-0.37,-0.37,-0.37,-0.37,-0.37,-0.37,
-0.37,-0.37,-0.37,-0.37,-0.37,-0.36,-0.36,-0.36,-0.36,-0.36,
-0.36,-0.36,-0.36,-0.36,-0.36,-0.36,-0.36,-0.35,-0.35,-0.35,
-0.35,-0.35,-0.35,-0.35,-0.35,-0.35,-0.35,-0.35,-0.35,-0.34,
-0.34,-0.34,-0.34,-0.34,-0.34,-0.34,-0.34,-0.34,-0.34,-0.34,
-0.33,-0.33,-0.33,-0.33,-0.33,-0.33,-0.33,-0.33,-0.33,-0.33,
-0.33,-0.33,-0.32,-0.32,-0.32,-0.32,-0.32,-0.32,-0.32,-0.32,
-0.32,-0.32,-0.32,-0.31,-0.31,-0.31,-0.31,-0.31,-0.31,-0.31,
-0.31,-0.31,-0.31,-0.31,-0.31,-0.30,-0.30,-0.30,-0.30,-0.30,
-0.30,-0.30,-0.30,-0.30,-0.30,-0.29,-0.29,-0.29,-0.29,-0.29,
-0.29,-0.29,-0.29,-0.29,-0.29,-0.28,-0.28,-0.28,-0.28,-0.28,
-0.28,-0.28,-0.28,-0.28,-0.28,-0.27,-0.27,-0.27,-0.27,-0.27,
-0.27,-0.27,-0.27,-0.27,-0.27,-0.26,-0.26,-0.26,-0.26,-0.26,
-0.26,-0.26,-0.26,-0.26,-0.25,-0.25,-0.25,-0.25,-0.25,-0.25,
-0.25,-0.25,-0.24,-0.24,-0.24,-0.24,-0.24,-0.24,-0.24,-0.24,
-0.23,-0.23,-0.23,-0.23,-0.23,-0.23,-0.23,-0.23,-0.22,-0.22,
-0.22,-0.22,-0.22,-0.22,-0.22,-0.22,-0.21,-0.21,-0.21,-0.21,
-0.21,-0.21,-0.21,-0.21,-0.20,-0.20,-0.20,-0.20,-0.20,-0.20,
-0.20,-0.19,-0.19,-0.19,-0.19,-0.19,-0.19,-0.19,-0.18,-0.18,
-0.18,-0.18,-0.18,-0.18,-0.17,-0.17,-0.17,-0.17,-0.17,-0.17,
-0.17,-0.16,-0.16,-0.16,-0.16,-0.16,-0.16,-0.15,-0.15,-0.15,
-0.15,-0.15,-0.15,-0.15,-0.14,-0.14,-0.14,-0.14,-0.14,-0.14,
-0.13,-0.13,-0.13,-0.13,-0.13,-0.13,-0.13,-0.12,-0.12,-0.12,
-0.12,-0.12,-0.12,-0.11,-0.11,-0.11,-0.11,-0.11,-0.10,-0.10,
-0.10,-0.10,-0.10,-0.10,-0.09,-0.09,-0.09,-0.09,-0.09,-0.08,
-0.08,-0.08,-0.08,-0.08,-0.07,-0.07,-0.07,-0.07,-0.07,-0.07,
-0.06,-0.06,-0.06,-0.06,-0.06,-0.05,-0.05,-0.05,-0.05,-0.05,
-0.04,-0.04,-0.04,-0.04,-0.04,-0.04,-0.03,-0.03,-0.03,-0.03,
-0.03,-0.02,-0.02,-0.02,-0.02,-0.02,-0.01,-0.01,-0.01,-0.01,
-0.01,0.00,0.00,0.00,0.00,0.00,0.01,0.01,0.01,0.01,
0.01,0.02,0.02,0.02,0.02,0.03,0.03,0.03,0.03,0.04,
0.04,0.04,0.04,0.05,0.05,0.05,0.05,0.06,0.06,0.06,
0.06,0.07,0.07,0.07,0.07,0.08,0.08,0.08,0.08,0.08,
0.09,0.09,0.09,0.10,0.10,0.10,0.10,0.11,0.11,0.11,
0.12,0.12,0.12,0.12,0.13,0.13,0.13,0.14,0.14,0.14,
0.14,0.15,0.15,0.15,0.15,0.16,0.16,0.17,0.17,0.17,
0.18,0.18,0.19,0.19,0.19,0.20,0.20,0.20,0.21,0.21,
0.22,0.22,0.22,0.23,0.23,0.24,0.24,0.25,0.25,0.25,
0.26,0.27,0.28,0.29,0.30,0.31,0.32,0.33,0.34,0.35,
0.37,0.38,0.40
];

const corrSeries = [skcmCorr, ucecCorr, gbmCorr, lggCorr, blcaCorr, ovCorr, stadCorr, pcpgCorr];

const FONT = '"Liberation Sans", Arial, Helvetica, sans-serif';
const svg = d3.select("#chart");
const boxW = 277.3, boxH = 135.5;
const colLeft = [57.7, 430.5];
const rowTop = [19.5, 256, 489.5, 727];
const lineColor = "#B03060";
const pointColor = "rgba(70,70,70,0.35)";

corrSeries.forEach((vals, i) => {
  const left = colLeft[i % 2];
  const top = rowTop[Math.floor(i / 2)];
  const n = vals.length;
  const xp = 0.04 * (n - 1);
  const x = d3.scaleLinear().domain([1 - xp, n + xp]).range([left, left + boxW]);
  const ext = d3.extent(vals);
  const yp = 0.04 * (ext[1] - ext[0]);
  const y = d3.scaleLinear().domain([ext[0] - yp, ext[1] + yp]).range([top + boxH, top]);
  const dom = y.domain();
  const g = svg.append("g").attr("class", "panel");

  // points
  g.append("g").selectAll("circle").data(vals).join("circle")
    .attr("cx", (d, j) => x(j + 1))
    .attr("cy", d => y(d))
    .attr("r", 2.6)
    .attr("fill", "none")
    .attr("stroke", pointColor)
    .attr("stroke-width", 1);

  // x axis
  const xa = g.append("g")
    .attr("transform", `translate(0,${top + boxH})`)
    .call(d3.axisBottom(x).tickValues(xTickValues).tickSize(7.5).tickFormat(d3.format("d")));
  xa.select(".domain").remove();
  xa.attr("font-size", 16).attr("font-family", FONT);
  xa.selectAll("text").attr("dy", null).attr("y", 26.5).attr("fill", "#111");
  xa.selectAll("line").attr("stroke", "#111");

  // y axis
  const ticks = yTickValues[i].filter(t => t >= dom[0] - 1e-9 && t <= dom[1] + 1e-9);
  const labs = yTickLabelValues[i];
  const ya = g.append("g")
    .attr("transform", `translate(${left},0)`)
    .call(d3.axisLeft(y).tickValues(ticks).tickSize(7.5)
      .tickFormat(d => labs.some(l => Math.abs(l - d) < 1e-9) ? d.toFixed(1) : ""));
  ya.select(".domain").remove();
  ya.attr("font-size", 16).attr("font-family", FONT);
  ya.selectAll("line").attr("stroke", "#111");
  ya.selectAll("text")
    .attr("x", null).attr("dy", null)
    .attr("text-anchor", "middle")
    .attr("fill", "#111")
    .attr("transform", "translate(-16.5,0) rotate(-90)");
  ya.selectAll("text").filter(function () { return this.textContent === ""; }).remove();

  // plot box
  g.append("rect")
    .attr("x", left).attr("y", top)
    .attr("width", boxW).attr("height", boxH)
    .attr("fill", "none").attr("stroke", "#111").attr("stroke-width", 1.2);

  // reference lines
  g.append("g").selectAll("line").data(thresholdLines).join("line")
    .attr("x1", left).attr("x2", left + boxW)
    .attr("y1", d => y(d)).attr("y2", d => y(d))
    .attr("stroke", lineColor).attr("stroke-width", 1.8)
    .attr("stroke-dasharray", "6.5,5");
  g.append("g").selectAll("line").data(zeroLine).join("line")
    .attr("x1", left).attr("x2", left + boxW)
    .attr("y1", d => y(d)).attr("y2", d => y(d))
    .attr("stroke", lineColor).attr("stroke-width", 1.5);

  // title
  const t = g.append("text")
    .attr("x", left + boxW / 2).attr("y", Math.max(top - 7.5, 14))
    .attr("text-anchor", "middle")
    .attr("font-size", 16).attr("font-family", FONT).attr("fill", "#111");
  t.append("tspan").text(`${cancerTypes[i]} (`);
  t.append("tspan").attr("font-style", "italic").text("n");
  t.append("tspan").text(` = ${sampleSizes[i]})`);

  // axis titles
  g.append("text")
    .attr("x", left + boxW / 2).attr("y", Math.min(top + boxH + 55, 914))
    .attr("text-anchor", "middle")
    .attr("font-size", 16).attr("font-family", FONT).attr("fill", "#111")
    .text("LM22 signature genes");
  g.append("text")
    .attr("transform", `translate(${left - 45},${top + boxH / 2}) rotate(-90)`)
    .attr("text-anchor", "middle")
    .attr("font-size", 16).attr("font-family", FONT).attr("fill", "#111")
    .text("Correlation with purity");
});
</script>
</body>
</html>
